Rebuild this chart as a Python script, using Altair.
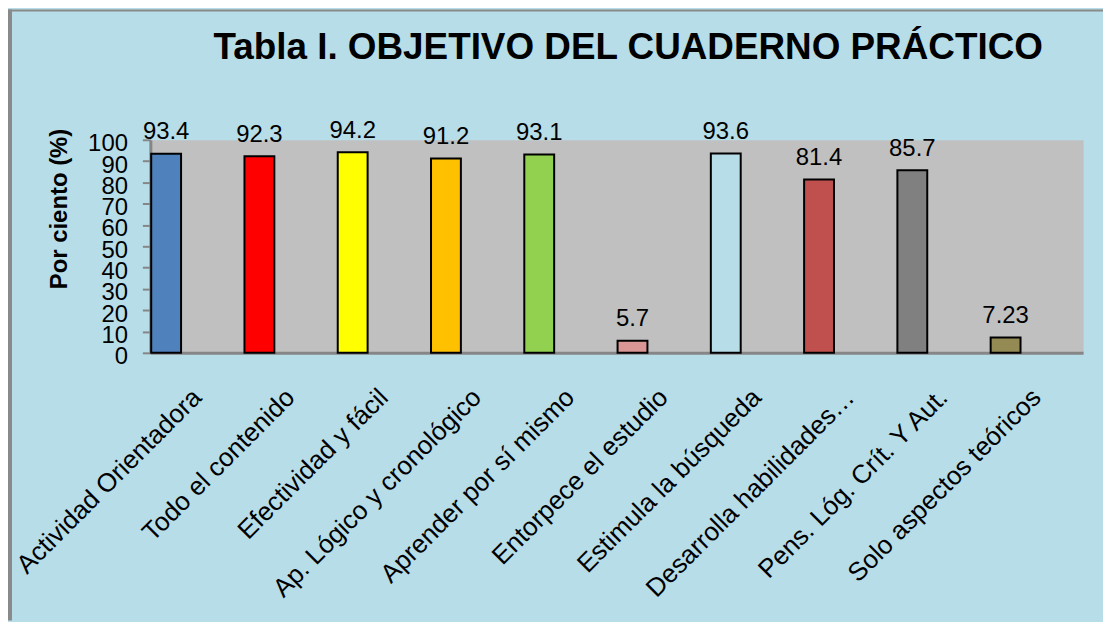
import altair as alt
import pandas as pd

categories = [
    "Actividad Orientadora",
    "Todo el contenido",
    "Efectividad y fácil",
    "Ap. Lógico y cronológico",
    "Aprender por sí mismo",
    "Entorpece el estudio",
    "Estimula la búsqueda",
    "Desarrolla habilidades…",
    "Pens. Lóg. Crít.  Y Aut.",
    "Solo aspectos teóricos",
]
values = [93.4, 92.3, 94.2, 91.2, 93.1, 5.7, 93.6, 81.4, 85.7, 7.23]
labels = ["93.4", "92.3", "94.2", "91.2", "93.1", "5.7", "93.6", "81.4", "85.7", "7.23"]
bar_colors = ["#4F81BD", "#FF0000", "#FFFF00", "#FFC000", "#92D050",
              "#DA9694", "#B7DDE8", "#C0504D", "#808080", "#948A54"]
title_text = "Tabla I. OBJETIVO DEL CUADERNO PRÁCTICO"
y_title = "Por ciento  (%)"
y_ticks = [0, 10, 20, 30, 40, 50, 60, 70, 80, 90, 100]

df = pd.DataFrame({"cat": categories, "val": values, "lab": labels})

FONT = "Liberation Sans"
W, H = 937, 214
PL, PT = 143, 131
TOTAL_W, TOTAL_H = 1100, 614

x_enc = alt.X(
    "cat:N",
    sort=categories,
    scale=alt.Scale(paddingInner=0, paddingOuter=0),
    axis=alt.Axis(
        title=None,
        labelAngle=-45,
        labelAlign="right",
        labelBaseline="alphabetic",
        labelFontSize=26,
        labelFont=FONT,
        labelColor="#000000",
        labelPadding=46,
        labelOffset=6,
        labelLimit=400,
        ticks=False,
        domainColor="#868686",
        domainWidth=3,
        labelOverlap=False,
    ),
)

y_enc = alt.Y(
    "val:Q",
    scale=alt.Scale(domain=[0, 100], nice=False),
    axis=alt.Axis(
        title=y_title,
        titleFont=FONT,
        titleFontSize=24,
        titleFontWeight="bold",
        titleColor="#000000",
        titleAngle=-90,
        titleAlign="center",
        titleBaseline="alphabetic",
        titleX=-84,
        titleY=69,
        values=y_ticks,
        labelFont=FONT,
        labelFontSize=24,
        labelColor="#000000",
        labelPadding=15,
        labelOffset=4,
        labelOverlap=False,
        labelFlush=False,
        tickSize=8,
        tickColor="#868686",
        tickWidth=2,
        domainColor="#868686",
        domainWidth=3,
        grid=False,
    ),
)

base = alt.Chart(df)

bars = base.mark_bar(width=30, xOffset=-31, stroke="#000000", strokeWidth=2).encode(
    x=x_enc,
    y=y_enc,
    color=alt.Color("cat:N", sort=categories,
                    scale=alt.Scale(domain=categories, range=bar_colors), legend=None),
)

text = base.mark_text(dx=-31, dy=-14.5, baseline="alphabetic", align="center",
                      font=FONT, fontSize=24, color="#000000").encode(
    x=x_enc,
    y=y_enc,
    text="lab:N",
)

frame_df = alt.Data(values=[{"k": 1}])
left_border = alt.Chart(frame_df).mark_rect(color="#898989").encode(
    x=alt.value(-PL), x2=alt.value(-PL + 4),
    y=alt.value(-PT), y2=alt.value(TOTAL_H - PT),
)
top_border = alt.Chart(frame_df).mark_rect(color="#898989").encode(
    x=alt.value(-PL), x2=alt.value(TOTAL_W - PL),
    y=alt.value(-PT), y2=alt.value(-PT + 2),
)
title_mark = alt.Chart(frame_df).mark_text(
    font=FONT, fontSize=37, fontWeight="bold", color="#000000",
    align="center", baseline="alphabetic",
).encode(
    x=alt.value(480), y=alt.value(-81), text=alt.value(title_text),
)

chart = alt.layer(left_border, top_border, title_mark, bars, text).properties(
    width=W,
    height=H,
    autosize=alt.AutoSizeParams(type="none"),
    padding={"left": PL, "top": PT, "right": TOTAL_W - PL - W, "bottom": TOTAL_H - PT - H},
    background="#B7DDE8",
).configure_view(
    fill="#C0C0C0",
    stroke="transparent",
)

chart.save("out.html", embed_options={"renderer": "svg", "actions": False})
